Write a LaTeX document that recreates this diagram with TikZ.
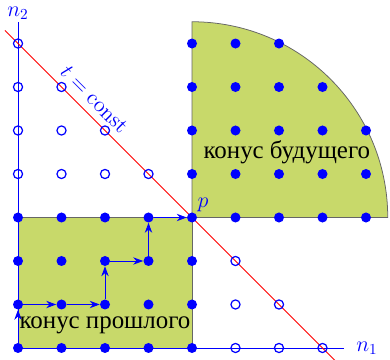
\documentclass[tikz,border=0pt]{standalone}
\usepackage{amsmath,amssymb}
\usepackage{fontspec}
\newfontfamily\cyrfont{Liberation Serif}
\usepackage{tikz}
\usepackage{xcolor}
\usetikzlibrary{arrows.meta}
\definecolor{conegreen}{RGB}{200,217,106}
\tikzset{
  cone/.style={draw=black!60, fill=conegreen, line width=0.5pt},
  axis/.style={blue, line width=0.6pt},
  simult/.style={red, line width=0.5pt},
  event/.style={circle, fill=blue, inner sep=0pt, minimum size=2.3mm},
  spacelike/.style={circle, draw=blue, line width=0.8pt, inner sep=0pt, minimum size=2.1mm},
  worldline/.style={-{Stealth[length=2.3mm, width=1.7mm]}, blue, line width=0.6pt},
  conelabel/.style={font=\cyrfont\fontsize{16.3}{19}\selectfont},
}

\begin{document}
\begin{tikzpicture}
  \useasboundingbox (-0.414,-0.276) rectangle (8.552,8.0);

  % cones
  \draw[cone] (0,0) rectangle (4,3);
  \draw[cone] (4,3) -- (4,7.5) arc[start angle=90, end angle=0, radius=4.5] -- cycle;

  % axes
  \coordinate (o) at (0,0);
  \coordinate (n1end) at (7.5,0);
  \coordinate (n2end) at (0,7.5);
  \draw[axis] (o) -- (n1end) node[right, xshift=1.5mm, text=blue, font=\Large] {$n_1$};
  \draw[axis] (o) -- (n2end) node[above, inner sep=1pt, text=blue, font=\Large] {$n_2$};

  % line of simultaneity
  \coordinate (tl) at (-0.3,7.3);
  \coordinate (br) at (7.3,-0.3);
  \draw[simult] (tl) -- (br)
    node[pos=0.24, sloped, above=0.5mm, text=blue, font=\Large] {$t=\mathrm{const}$};

  % past cone events
  \foreach \i in {0,...,4}
    \foreach \j in {0,...,3}
      \node[event] (e-\i-\j) at (\i,\j) {};

  % future cone events
  \foreach \i in {4,...,8}
    \foreach \j in {3,...,7} {
      \pgfmathtruncatemacro\r{(\i-4)*(\i-4)+(\j-3)*(\j-3)}
      \ifnum\r>0 \ifnum\r<21
        \node[event] (e-\i-\j) at (\i,\j) {};
      \fi\fi
    }

  % events outside both cones
  \foreach \i in {0,...,3} {
    \pgfmathtruncatemacro\top{7-\i}
    \foreach \j in {4,...,\top}
      \node[spacelike] (s-\i-\j) at (\i,\j) {};
  }
  \foreach \i in {5,6,7} {
    \pgfmathtruncatemacro\top{min(7-\i,2)}
    \foreach \j in {0,...,\top}
      \node[spacelike] (s-\i-\j) at (\i,\j) {};
  }

  % world line into p
  \foreach \a/\b in {0-0/0-1, 0-1/1-1, 1-1/2-1, 2-1/2-2, 2-2/3-2, 3-2/3-3, 3-3/4-3}
    \draw[worldline] (e-\a) -- (e-\b);
  \node[above right, inner sep=1pt, text=blue, font=\Large] (p) at (e-4-3.north east) {$p$};

  % labels
  \node[conelabel] (future) at (6.18,4.5) {конус будущего};
  \node[conelabel] (past) at (2,0.53) {конус прошлого};

\end{tikzpicture}
\end{document}
